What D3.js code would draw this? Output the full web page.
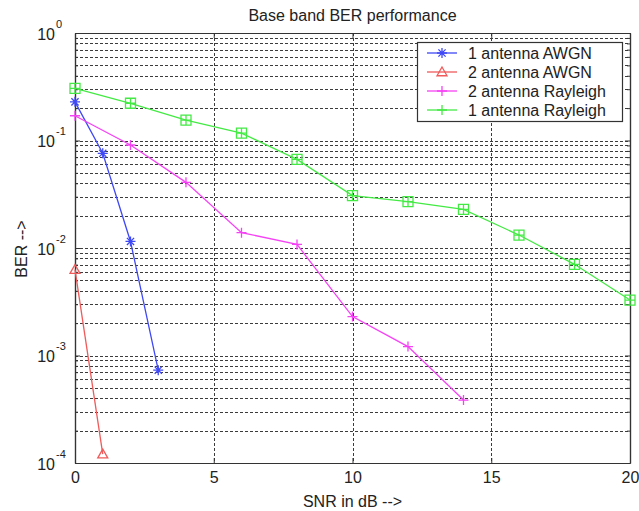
<!DOCTYPE html>
<html><head><meta charset="utf-8">
<script src="https://cdn.jsdelivr.net/npm/d3@7"></script>
<style>
body{margin:0;background:#fff}
text{font-family:"Liberation Sans",Arial,sans-serif;fill:#222}
</style>
</head><body><svg id="c" width="639" height="511"></svg>
<script>
// ---- data ----
const seriesNames = ["1 antenna AWGN","2 antenna AWGN","2 antenna Rayleigh","1 antenna Rayleigh"];
const snrAwgn1 = [0,1,2,3];
const berAwgn1 = [0.229,0.076,0.0115,0.00073];
const snrAwgn2 = [0,1];
const berAwgn2 = [0.0063,0.000121];
const snrRay2 = [0,2,4,6,8,10,12,14];
const berRay2 = [0.170,0.0908,0.0408,0.0139,0.0108,0.00230,0.00121,0.000385];
const snrRay1 = [0,2,4,6,8,10,12,14,16,18,20];
const berRay1 = [0.306,0.222,0.155,0.117,0.0668,0.0307,0.0270,0.0229,0.0132,0.00705,0.00328];
const xTicks = [0,5,10,15,20];
const yExponents = [0,-1,-2,-3,-4];
const titleText = "Base band BER performance";
const xLabel = "SNR in dB -->";
const yLabel = "BER -->";

const series = [
  {name:seriesNames[0], x:snrAwgn1, y:berAwgn1, color:"#3f48f5", marker:"star", legendMarker:"star"},
  {name:seriesNames[1], x:snrAwgn2, y:berAwgn2, color:"#f05a5a", marker:"tri", legendMarker:"tri"},
  {name:seriesNames[2], x:snrRay2, y:berRay2, color:"#f542f5", marker:"plus", legendMarker:"plus"},
  {name:seriesNames[3], x:snrRay1, y:berRay1, color:"#44ea44", marker:"sqplus", legendMarker:"plus"}
];

const L=75, R=630, T=33, B=463;
const svg = d3.select("#c");
svg.append("rect").attr("width",639).attr("height",511).attr("fill","#fff");

const x = d3.scaleLinear().domain([0,20]).range([L,R]);
const y = d3.scaleLog().domain([1e-4,1]).range([B,T]);

const yTicks = yExponents.map(e => Math.pow(10,e));
const minorTicks = [];
for (let e=-4;e<0;e++) for (let m=2;m<=9;m++) minorTicks.push(m*Math.pow(10,e));
const allGrid = yTicks.concat(minorTicks);

// grid
const grid = svg.append("g").attr("stroke","#3c3c3c").attr("stroke-width",1).attr("stroke-dasharray","3,2").attr("fill","none");
grid.selectAll("line.h").data(allGrid).join("line").attr("class","h")
  .attr("x1",L).attr("x2",R).attr("y1",d=>Math.round(y(d))+0.5).attr("y2",d=>Math.round(y(d))+0.5);
grid.selectAll("line.v").data(xTicks.slice(1,-1)).join("line").attr("class","v")
  .attr("y1",T).attr("y2",B).attr("x1",d=>Math.round(x(d))+0.5).attr("x2",d=>Math.round(x(d))+0.5);

// axes
function styleAxis(g){
  g.select(".domain").attr("stroke","#333");
  g.selectAll(".tick line").attr("stroke","#333");
  g.selectAll("text").style("font-size","16px").attr("fill","#222");
}
const xAxis = svg.append("g").attr("transform",`translate(0,${B})`)
  .call(d3.axisBottom(x).tickValues(xTicks).tickSizeInner(-5).tickSizeOuter(0).tickPadding(9).tickFormat(d3.format("d")));
styleAxis(xAxis);
xAxis.selectAll("text").attr("font-family",null);
const xTop = svg.append("g").attr("transform",`translate(0,${T})`)
  .call(d3.axisTop(x).tickValues(xTicks).tickSizeInner(-5).tickSizeOuter(0).tickFormat(""));
styleAxis(xTop);

const yAxis = svg.append("g").attr("transform",`translate(${L},0)`)
  .call(d3.axisLeft(y).tickValues(yTicks).tickSizeInner(-5).tickSizeOuter(0).tickFormat(""));
styleAxis(yAxis);
yAxis.selectAll(".tick").each(function(d,i){
  const g = d3.select(this);
  g.select("text").remove();
  g.append("text").attr("x",-20).attr("y",6).attr("text-anchor","end").style("font-size","16px").text("10");
  g.append("text").attr("x",-19).attr("y",-6).attr("text-anchor","start").style("font-size","11px").text(String(yExponents[i]));
});
const yMinor = svg.append("g").attr("transform",`translate(${L},0)`)
  .call(d3.axisLeft(y).tickValues(minorTicks).tickSizeInner(-3).tickSizeOuter(0).tickFormat(""));
styleAxis(yMinor);
const yRight = svg.append("g").attr("transform",`translate(${R},0)`)
  .call(d3.axisRight(y).tickValues(yTicks).tickSizeInner(-5).tickSizeOuter(0).tickFormat(""));
styleAxis(yRight);
const yRightMinor = svg.append("g").attr("transform",`translate(${R},0)`)
  .call(d3.axisRight(y).tickValues(minorTicks).tickSizeInner(-3).tickSizeOuter(0).tickFormat(""));
styleAxis(yRightMinor);
svg.selectAll(".domain").attr("stroke-width",1.2);

// markers
function marker(g, type, color){
  const s=5;
  if(type==="star"){
    g.append("path").attr("d",`M${-s},0H${s}M0,${-s}V${s}M${-s*0.72},${-s*0.72}L${s*0.72},${s*0.72}M${-s*0.72},${s*0.72}L${s*0.72},${-s*0.72}`)
      .attr("stroke",color).attr("stroke-width",1.3).attr("fill","none");
  } else if(type==="tri"){
    g.append("path").attr("d",`M0,${-s}L${s},${s*0.75}L${-s},${s*0.75}Z`)
      .attr("stroke",color).attr("stroke-width",1.3).attr("fill","none");
  } else if(type==="plus"){
    g.append("path").attr("d",`M${-s},0H${s}M0,${-s}V${s}`)
      .attr("stroke",color).attr("stroke-width",1.3).attr("fill","none");
  } else if(type==="sqplus"){
    g.append("path").attr("d",`M${-s},${-s}H${s}V${s}H${-s}ZM${-s},0H${s}M0,${-s}V${s}`)
      .attr("stroke",color).attr("stroke-width",1.3).attr("fill","none");
  }
}

const line = d3.line().x(d=>x(d[0])).y(d=>y(d[1]));
series.forEach(s=>{
  const pts = s.x.map((v,i)=>[v,s.y[i]]);
  svg.append("path").datum(pts).attr("d",line).attr("fill","none").attr("stroke",s.color).attr("stroke-width",1.3);
  svg.append("g").selectAll("g").data(pts).join("g")
    .attr("transform",d=>`translate(${x(d[0])},${y(d[1])})`)
    .each(function(){ marker(d3.select(this), s.marker, s.color); });
});

// legend
const lg = svg.append("g");
lg.append("rect").attr("x",417.5).attr("y",42.5).attr("width",205).attr("height",79)
  .attr("fill","#fff").attr("stroke","#333").attr("stroke-width",1.2);
series.forEach((s,i)=>{
  const yy = 53 + i*19;
  lg.append("line").attr("x1",427).attr("x2",457).attr("y1",yy).attr("y2",yy).attr("stroke",s.color).attr("stroke-width",1.3);
  marker(lg.append("g").attr("transform",`translate(442,${yy})`), s.legendMarker, s.color);
  lg.append("text").attr("x",468).attr("y",yy+6).style("font-size","16px").text(s.name);
});

// titles
svg.append("text").attr("x",(L+R)/2).attr("y",21).attr("text-anchor","middle").style("font-size","16px").text(titleText);
svg.append("text").attr("x",(L+R)/2).attr("y",507).attr("text-anchor","middle").style("font-size","16px").text(xLabel);
svg.append("text").attr("transform",`translate(27,249) rotate(-90)`).attr("text-anchor","middle").style("font-size","16px").text(yLabel);
</script>
</body></html>
